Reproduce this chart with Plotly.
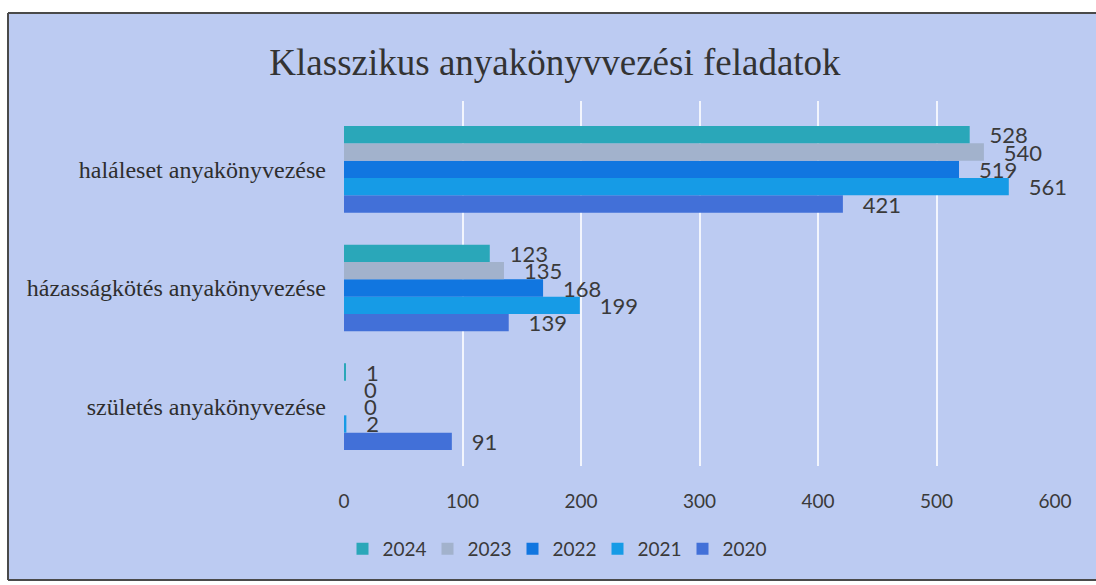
import plotly.graph_objects as go

# categories bottom -> top (plotly draws the first category at the bottom)
categories = ["születés anyakönyvezése", "házasságkötés anyakönyvezése", "haláleset anyakönyvezése"]
years = ["2020", "2021", "2022", "2023", "2024"]
values = {
    "2024": [1, 123, 528],
    "2023": [0, 135, 540],
    "2022": [0, 168, 519],
    "2021": [2, 199, 561],
    "2020": [91, 139, 421],
}
colors = {
    "2024": "#2aa7b9",
    "2023": "#a2b2cc",
    "2022": "#1176e0",
    "2021": "#169be6",
    "2020": "#4270d8",
}

bg = "#bccbf2"
frame = "#4a4a4a"
pad = "\u00a0" * 3
sans = "Lato, Open Sans, sans-serif"
serif = "Liberation Serif, Times New Roman, serif"

W, H = 1096, 585
L, R, T, B = 344, 41, 101, 119
pw, ph = W - L - R, H - T - B


def px(x):
    return (x - L) / pw


def py(y):
    return (H - B - y) / ph


fig = go.Figure()
for yr in years:
    fig.add_trace(go.Bar(
        y=categories, x=values[yr], name=yr, orientation="h",
        marker=dict(color=colors[yr], line=dict(width=0)),
        text=values[yr], texttemplate=pad + "%{x}", textposition="outside",
        constraintext="none", cliponaxis=False,
        textfont=dict(family=sans, size=22, color="#3a3a3a"),
    ))

# scanned page: white margin at top/left/bottom, dark frame around the chart
white = "white"
fig.update_layout(
    width=W, height=H,
    margin=dict(l=L, r=R, t=T, b=B),
    paper_bgcolor=bg,
    plot_bgcolor="rgba(0,0,0,0)",
    barmode="group", bargap=0.27, bargroupgap=0,
    title=dict(text="Klasszikus anyakönyvvezési feladatok", x=555 / W, xref="container",
               y=1 - 62 / H, yref="container", xanchor="center", yanchor="middle",
               font=dict(family=serif, size=37, color="#333333")),
    legend=dict(orientation="h", traceorder="reversed", x=555 / W, xref="container", xanchor="center",
                y=1 - 549 / H, yref="container", yanchor="middle",
                font=dict(family=sans, size=19, color="#3a3a3a"),
                itemwidth=30, entrywidth=40, bgcolor="rgba(0,0,0,0)"),
    xaxis=dict(range=[0, 600], dtick=100, showgrid=True, gridcolor="rgba(255,255,255,0.8)", gridwidth=1.5,
               zeroline=False, showline=False, ticklabelstandoff=22,
               tickfont=dict(family=sans, size=19, color="#3a3a3a")),
    yaxis=dict(range=[-0.5, 2.576], showgrid=False, zeroline=False, showline=False, ticklabelstandoff=17,
               tickfont=dict(family=serif, size=24, color="#2e2e2e")),
    shapes=[
        dict(type="rect", xref="paper", yref="paper", layer="below",
             x0=px(-5), x1=px(W + 20), y0=py(13), y1=py(-5), fillcolor=white, line=dict(width=0)),
        dict(type="rect", xref="paper", yref="paper", layer="below",
             x0=px(-5), x1=px(W + 20), y0=py(H + 5), y1=py(580), fillcolor=white, line=dict(width=0)),
        dict(type="rect", xref="paper", yref="paper", layer="below",
             x0=px(-5), x1=px(8), y0=py(H + 5), y1=py(-5), fillcolor=white, line=dict(width=0)),
        dict(type="line", xref="paper", yref="paper", layer="below",
             x0=px(8), x1=px(W + 20), y0=py(13), y1=py(13), line=dict(color=frame, width=2)),
        dict(type="line", xref="paper", yref="paper", layer="below",
             x0=px(8), x1=px(W + 20), y0=py(580), y1=py(580), line=dict(color=frame, width=2)),
        dict(type="line", xref="paper", yref="paper", layer="below",
             x0=px(8), x1=px(8), y0=py(580), y1=py(13), line=dict(color=frame, width=2)),
    ],
)

# drop the default body margin so the figure fills the window exactly
fig.write_html("out.html", config={"displayModeBar": False},
               post_script="document.body.style.margin='0';document.body.style.overflow='hidden';")
